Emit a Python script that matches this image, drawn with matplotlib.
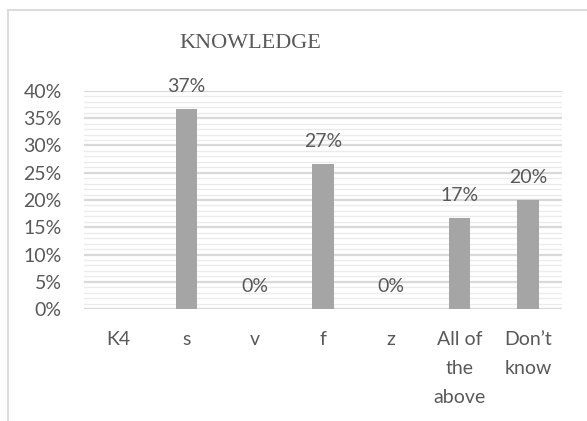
import numpy as np
import matplotlib
matplotlib.use("Agg")
import matplotlib.pyplot as plt
from matplotlib.lines import Line2D
from matplotlib.ticker import MultipleLocator, PercentFormatter

categories = ["K4", "s", "v", "f", "z", "All of\nthe\nabove", "Don\u2019t\nknow"]
values = [None, 11 / 30, 0.0, 8 / 30, 0.0, 5 / 30, 6 / 30]
value_labels = ["", "37%", "0%", "27%", "0%", "17%", "20%"]

TEXT = "#595959"
BAR = "#a5a5a5"
W, H = 587, 421

fig = plt.figure(figsize=(W / 100, H / 100), dpi=100)
fig.patch.set_facecolor("white")

# outer chart frame (top and left edges)
fig.add_artist(Line2D([8 / W, 1.0], [1 - 10 / H, 1 - 10 / H], color="#d9d9d9", lw=1.3,
                      transform=fig.transFigure))
fig.add_artist(Line2D([8 / W, 8 / W], [1 - 10 / H, 0.0], color="#d9d9d9", lw=1.3,
                      transform=fig.transFigure))

left, right, top, bottom = 84, 562, 91, 309
ax = fig.add_axes([left / W, 1 - bottom / H, (right - left) / W, (bottom - top) / H])

x = np.arange(len(categories))
heights = [0 if v is None else v for v in values]
ax.bar(x, heights, width=0.32, color=BAR, zorder=3)

ax.set_xlim(-0.5, len(categories) - 0.5)
ax.set_ylim(0, 0.40)
ax.yaxis.set_major_locator(MultipleLocator(0.05))
ax.yaxis.set_minor_locator(MultipleLocator(0.01))
ax.yaxis.set_major_formatter(PercentFormatter(1.0, decimals=0))
ax.grid(which="major", axis="y", color="#d9d9d9", lw=1.6, zorder=0)
ax.grid(which="minor", axis="y", color="#ebebeb", lw=1.0, zorder=0)
for s in ax.spines.values():
    s.set_visible(False)
ax.axhline(0, color="#d9d9d9", lw=1.6, zorder=2)

ax.set_xticks(x)
ax.set_xticklabels(categories, fontsize=14, color=TEXT, family="Lato",
                   linespacing=1.85, va="top")
ax.tick_params(axis="x", length=0, pad=16)
ax.tick_params(axis="y", which="both", length=0, pad=16, labelsize=14, labelcolor=TEXT)
for lab in ax.get_yticklabels():
    lab.set_family("Lato")

for xi, v, lab in zip(x, values, value_labels):
    if v is None or not lab:
        continue
    ax.annotate(lab, (xi, v), xytext=(0, 10), textcoords="offset points",
                ha="center", va="bottom", fontsize=14, color=TEXT,
                family="Lato", annotation_clip=False)

fig.text(250 / W, 1 - 43 / H, "KNOWLEDGE", ha="center", va="center",
         fontsize=16, color=TEXT, family="Liberation Serif")

fig.savefig("out.png", dpi=100, facecolor="white")
